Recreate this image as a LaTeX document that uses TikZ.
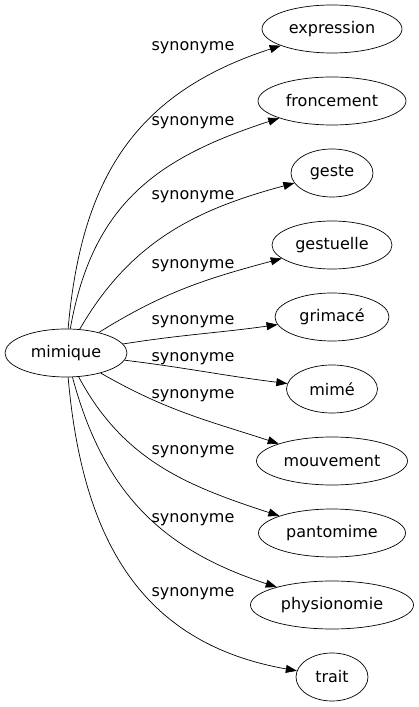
\documentclass[tikz,border=0pt]{standalone}
\usepackage{fontspec}
\setmainfont{DejaVu Sans}
\usetikzlibrary{shapes.geometric}
\usetikzlibrary{arrows.meta}

\begin{document}
\begin{tikzpicture}[x=1pt,y=1pt,
        word/.style={ellipse,draw,line width=0.7pt,inner sep=0pt,minimum height=48pt,
            font=\fontsize{16}{19}\selectfont},
        syn/.style={line width=0.7pt,-{Triangle[length=11pt,width=8pt]}},
        lbl/.style={inner sep=0pt,font=\fontsize{16}{19}\selectfont}]%
    \useasboundingbox (0,0) rectangle (419,707);
    \node[word,minimum width=122pt] (mimique) at (66,354) {mimique};
    % right column
    \node[word,minimum width=140pt] (expression) at (332,678) {expression};
    \node[word,minimum width=148pt] (froncement) at (332,606) {froncement};
    \node[word,minimum width=82pt] (geste) at (332,534) {geste};
    \node[word,minimum width=120pt] (gestuelle) at (332,462) {gestuelle};
    \node[word,minimum width=114pt] (grimace) at (332,390) {grimacé};
    \node[word,minimum width=91pt] (mime) at (332,318) {mimé};
    \node[word,minimum width=151pt] (mouvement) at (332,246) {mouvement};
    \node[word,minimum width=147pt] (pantomime) at (332,174) {pantomime};
    \node[word,minimum width=163pt] (physionomie) at (332,102) {physionomie};
    \node[word,minimum width=72pt] (trait) at (332,30) {trait};
    \begin{scope}[syn]
        \draw (mimique) to[out=85,in=198,looseness=1.1] (expression);
        \draw (mimique) to[out=80,in=198,looseness=1.1] (froncement);
        \draw (mimique) to[out=60,in=195] (geste);
        \draw (mimique) to[out=32,in=195] (gestuelle);
        \draw (mimique) to[out=9,in=188] (grimace);
        \draw (mimique) to[out=-7,in=173] (mime);
        \draw (mimique) to[out=-30,in=162] (mouvement);
        \draw (mimique) to[out=-62,in=162] (pantomime);
        \draw (mimique) to[out=-75,in=162,looseness=1.05] (physionomie);
        \draw (mimique) to[out=-85,in=170,looseness=1.1] (trait);
    \end{scope}
    \node[lbl] (l1) at (193,659) {synonyme};
    \node[lbl] (l2) at (193,584) {synonyme};
    \node[lbl] (l3) at (193,510) {synonyme};
    \node[lbl] (l4) at (193,441) {synonyme};
    \node[lbl] (l5) at (193,385) {synonyme};
    \node[lbl] (l6) at (193,348) {synonyme};
    \node[lbl] (l7) at (193,311) {synonyme};
    \node[lbl] (l8) at (193,255) {synonyme};
    \node[lbl] (l9) at (193,187) {synonyme};
    \node[lbl] (l10) at (193,113) {synonyme};
\end{tikzpicture}
\end{document}
